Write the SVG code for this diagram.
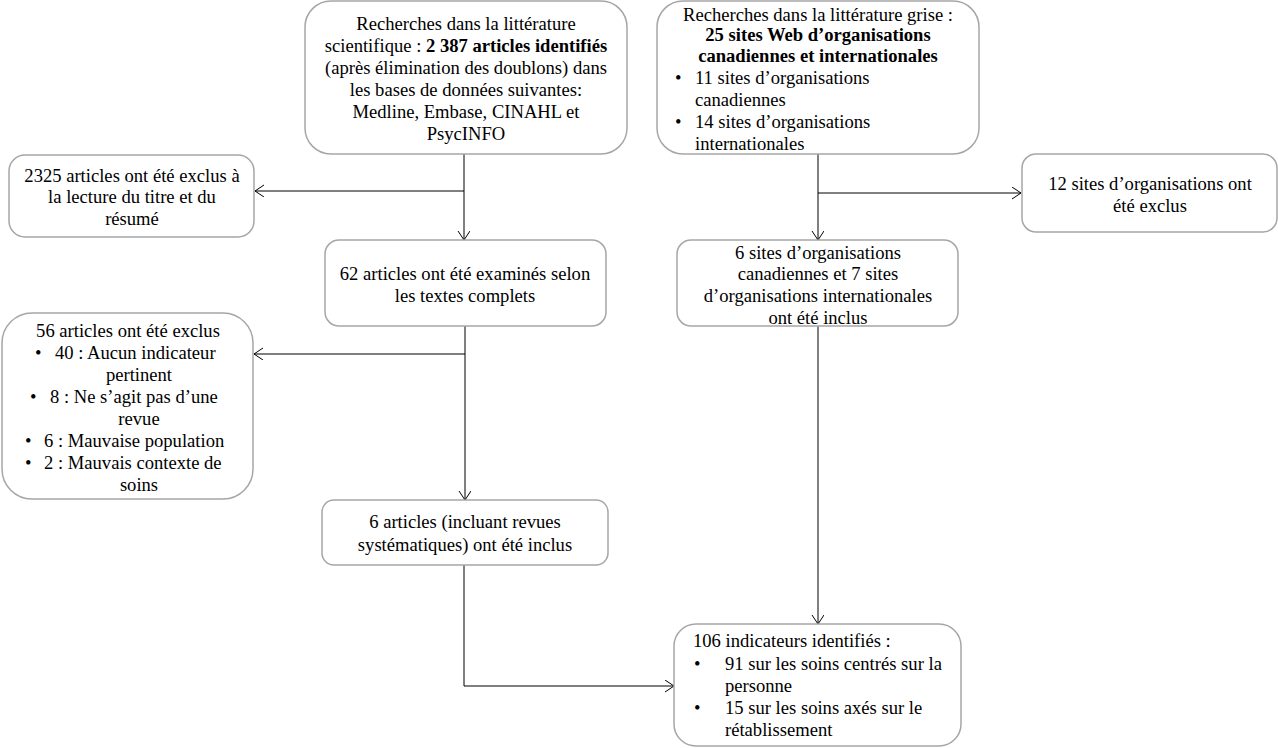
<svg xmlns="http://www.w3.org/2000/svg" width="1278" height="748" viewBox="0 0 1278 748">
<style>
.box{fill:#fff;stroke:#a6a6a6;stroke-width:1.5}
text{font-family:"Liberation Serif","Times New Roman",serif;font-size:18.6px;fill:#000}
.c{text-anchor:middle}
.b{font-weight:bold}
.conn{fill:none;stroke:#000;stroke-width:1}
</style>
<defs>
<marker id="arr" markerUnits="userSpaceOnUse" markerWidth="12" markerHeight="14" refX="10" refY="6" orient="auto">
<path d="M1,0 L10,6 L1,12" fill="none" stroke="#000" stroke-width="1"/>
</marker>
</defs>
<rect width="1278" height="748" fill="#fff"/>
<g id="connectors">
<path class="conn" d="M464,154 V240" marker-end="url(#arr)"/>
<path class="conn" d="M464,191 H255" marker-end="url(#arr)"/>
<path class="conn" d="M818,154 V240" marker-end="url(#arr)"/>
<path class="conn" d="M818,193 H1021" marker-end="url(#arr)"/>
<path class="conn" d="M465,326 V500" marker-end="url(#arr)"/>
<path class="conn" d="M465,354 H254" marker-end="url(#arr)"/>
<path class="conn" d="M464,565 V686 H674" marker-end="url(#arr)"/>
<path class="conn" d="M818,326 V624" marker-end="url(#arr)"/>
</g>
<g id="n1">
<rect class="box" x="305" y="1" width="322" height="153" rx="26"/>
<text class="c" x="466" y="30">Recherches dans la littérature</text>
<text class="c" x="466" y="52">scientifique : <tspan class="b">2 387 articles identifiés</tspan></text>
<text class="c" x="466" y="74">(après élimination des doublons) dans</text>
<text class="c" x="466" y="96">les bases de données suivantes:</text>
<text class="c" x="466" y="118">Medline, Embase, CINAHL et</text>
<text class="c" x="466" y="140">PsycINFO</text>
</g>
<g id="n2">
<rect class="box" x="657" y="1" width="322" height="153" rx="26"/>
<text class="c" x="818" y="21">Recherches dans la littérature grise :</text>
<text class="c b" x="818" y="41">25 sites Web d’organisations</text>
<text class="c b" x="818" y="62">canadiennes et internationales</text>
<text x="675" y="84">•</text><text x="695" y="84">11 sites d’organisations</text>
<text x="695" y="106">canadiennes</text>
<text x="675" y="128">•</text><text x="695" y="128">14 sites d’organisations</text>
<text x="695" y="150">internationales</text>
</g>
<g id="n3">
<rect class="box" x="9" y="155" width="245" height="82" rx="16"/>
<text class="c" x="132" y="182">2325 articles ont été exclus à</text>
<text class="c" x="132" y="203">la lecture du titre et du</text>
<text class="c" x="132" y="225">résumé</text>
</g>
<g id="n4">
<rect class="box" x="325" y="240" width="281" height="86" rx="14"/>
<text class="c" x="465" y="280">62 articles ont été examinés selon</text>
<text class="c" x="465" y="302">les textes complets</text>
</g>
<g id="n5">
<rect class="box" x="1022" y="154" width="255" height="78" rx="14"/>
<text class="c" x="1150" y="190">12 sites d’organisations ont</text>
<text class="c" x="1150" y="212">été exclus</text>
</g>
<g id="n6">
<rect class="box" x="677" y="240" width="281" height="86" rx="14"/>
<text class="c" x="818" y="259">6 sites d’organisations</text>
<text class="c" x="818" y="280">canadiennes et 7 sites</text>
<text class="c" x="818" y="302">d’organisations internationales</text>
<text class="c" x="818" y="324">ont été inclus</text>
</g>
<g id="n7">
<rect class="box" x="2" y="313" width="251" height="186" rx="30"/>
<text class="c" x="128" y="337">56 articles ont été exclus</text>
<text x="35" y="359">•</text><text x="55" y="359">40 : Aucun indicateur</text>
<text class="c" x="139" y="381">pertinent</text>
<text x="30" y="403">•</text><text x="50" y="403">8 : Ne s’agit pas d’une</text>
<text class="c" x="139" y="425">revue</text>
<text x="25" y="447">•</text><text x="44" y="447">6 : Mauvaise population</text>
<text x="25" y="469">•</text><text x="44" y="469">2 : Mauvais contexte de</text>
<text class="c" x="139" y="491">soins</text>
</g>
<g id="n8">
<rect class="box" x="322" y="500" width="286" height="65" rx="12"/>
<text class="c" x="465" y="528">6 articles (incluant revues</text>
<text class="c" x="465" y="551">systématiques) ont été inclus</text>
</g>
<g id="n9">
<rect class="box" x="674" y="624" width="287" height="122" rx="22"/>
<text x="693" y="647">106 indicateurs identifiés :</text>
<text x="694" y="670">•</text><text x="725" y="670">91 sur les soins centrés sur la</text>
<text x="725" y="692">personne</text>
<text x="694" y="714">•</text><text x="725" y="714">15 sur les soins axés sur le</text>
<text x="725" y="736">rétablissement</text>
</g>
</svg>
